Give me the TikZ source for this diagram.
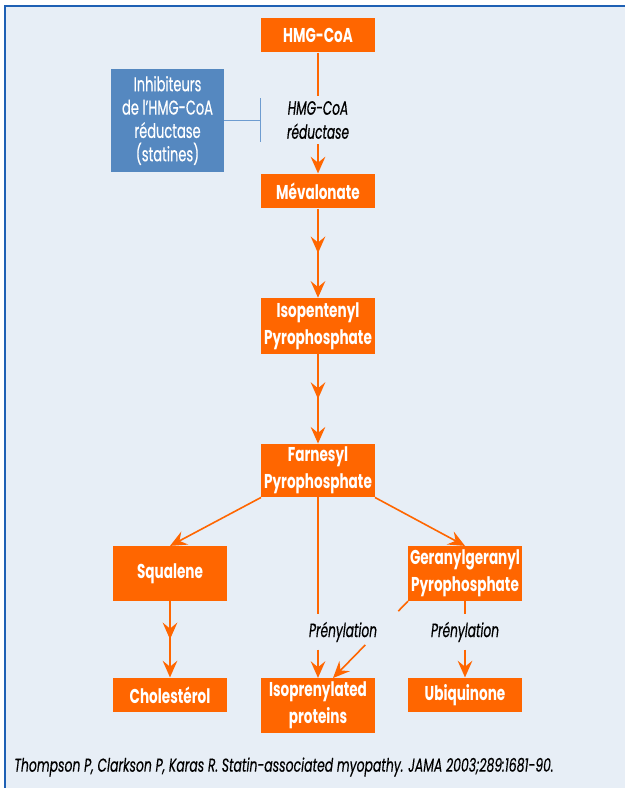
\documentclass[tikz,border=0pt]{standalone}
\usepackage{fontspec}
\setmainfont{Poppins}
\newfontfamily\boxfont[FakeStretch=0.68]{Poppins}
\newfontfamily\drugfont[FakeStretch=0.65,FakeBold=0.4]{Poppins}
\newfontfamily\labelfont[FakeStretch=0.63,FakeBold=0.5]{Poppins}
\newfontfamily\srcfont[FakeStretch=0.665,FakeBold=0.3]{Poppins}
\usepackage{tikz}
\usetikzlibrary{positioning, arrows.meta, decorations.markings, calc}

\definecolor{pathorange}{RGB}{255,102,0}
\definecolor{statinblue}{RGB}{85,136,192}
\definecolor{panelbg}{RGB}{231,238,246}
\definecolor{frameblue}{RGB}{30,96,180}
\definecolor{inhibline}{RGB}{110,156,208}

\tikzset{
  tip/.style={-{Stealth[length=12.5pt,width=11pt,inset=4.5pt]}},
  metab/.style={fill=pathorange, text=white, align=center, inner sep=1pt,
    minimum width=85pt, minimum height=26pt,
    font=\boxfont\bfseries\fontsize{15}{20}\selectfont},
  drug/.style={fill=statinblue, text=white, align=center, inner sep=1pt,
    minimum width=85pt, minimum height=77pt,
    font=\drugfont\fontsize{15}{17.5}\selectfont},
  enz/.style={align=center, inner sep=0pt, minimum height=26pt,
    font=\labelfont\itshape\fontsize{14.5}{18}\selectfont},
  link/.style={draw=pathorange, line width=1.2pt},
  flow/.style={link, tip},
  twostep/.style={flow, postaction={decorate},
    decoration={markings,
      mark=at position 0.5 with {\arrow{Stealth[length=12.5pt,width=11pt,inset=4.5pt]}}}},
}

\begin{document}
\begin{tikzpicture}[x=0.75pt,y=-0.75pt]
    % panel
    \useasboundingbox (0,0) rectangle (625,788);
    \fill[panelbg] (5,6) rectangle (625,788);
    \draw[frameblue, line width=1.5pt] (5,788) -- (5,6) -- (625,6);

    % metabolites
    \node[metab] (hmg)   at (318,35)    {HMG-CoA};
    \node[metab] (mev)   at (318,191)   {Mévalonate};
    \node[metab, minimum height=42pt] (ipp) at (318,326)   {Isopentenyl\\Pyrophosphate};
    \node[metab, minimum height=40pt] (fpp) at (318,470.5) {Farnesyl\\Pyrophosphate};
    \node[metab, minimum height=41pt] (squal) at (170,573.5) {Squalene};
    \node[metab, minimum height=41pt] (ggpp)  at (465,573.5) {Geranylgeranyl\\Pyrophosphate};
    \node[metab] (chol)  at (170,695)   {Cholestérol};
    \node[metab, minimum height=41pt] (iso) at (318,705.5) {Isoprenylated\\proteins};
    \node[metab] (ubiq)  at (465,695)   {Ubiquinone};

    % inhibitor and labels
    \node[drug] (inh) at (167.5,120.5) {Inhibiteurs\\de l’HMG-CoA\\réductase\\(statines)};
    \node[enz, minimum height=36pt] (red) at (318,120) {HMG-CoA\\réductase};
    \node[enz] (prenA) at (343,632) {Prénylation};
    \node[enz] (prenB) at (465,632) {Prénylation};
    \coordinate (isoR) at (333,678);

    % main pathway
    \draw[link] (hmg) -- (red);
    \draw[flow] (red) -- (mev);
    \draw[twostep] (mev) -- (ipp);
    \draw[twostep] (ipp) -- (fpp);
    \draw[twostep] (squal) -- (chol);
    \draw[flow] (fpp.south west) -- (squal.north);
    \draw[flow] (fpp.south east) -- (ggpp.north);

    % prenylation branches
    \draw[link] (fpp.south) -- (fpp.south |- prenA.north);
    \draw[flow] (iso.north |- prenA.south) -- (iso.north);
    \draw[link] (ggpp.south) -- (prenB.north);
    \draw[flow] (prenB.south) -- (ubiq.north);
    \draw[link] (ggpp.south west) -- ($(ggpp.south west)!0.13!(isoR)$);
    \draw[flow] ($(ggpp.south west)!0.57!(isoR)$) -- (isoR);

    % statins block the reductase
    \draw[inhibline, line width=1pt, -{Bar[width=33pt]}] (inh.east) -- (inh.east -| hmg.west);

    % source
    \node[anchor=west, inner sep=0pt, font=\srcfont\itshape\fontsize{14}{16}\selectfont] (src) at (14,767)
        {Thompson P, Clarkson P, Karas R. Statin-associated myopathy. JAMA 2003;289:1681-90.};
\end{tikzpicture}
\end{document}
